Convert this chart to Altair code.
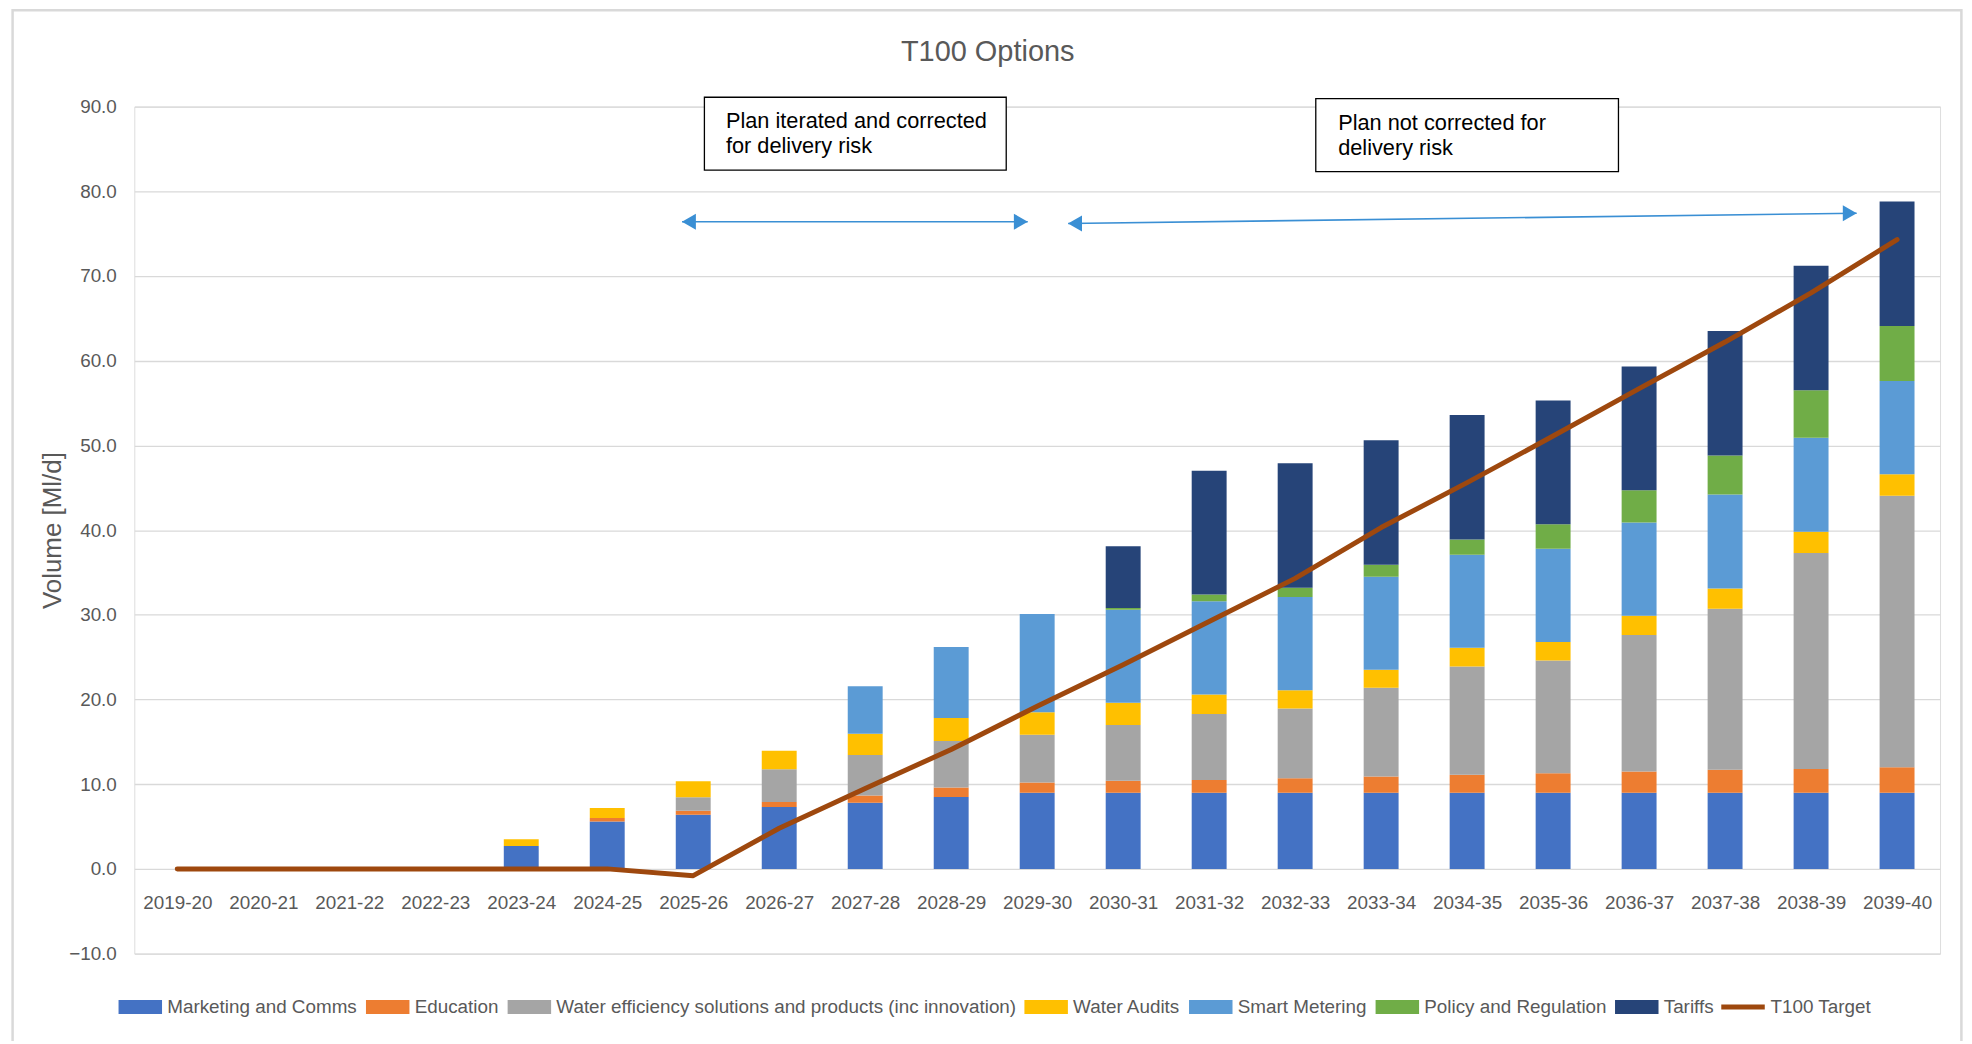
import altair as alt
import pandas as pd

years = ['2019-20', '2020-21', '2021-22', '2022-23', '2023-24', '2024-25', '2025-26',
         '2026-27', '2027-28', '2028-29', '2029-30', '2030-31', '2031-32', '2032-33',
         '2033-34', '2034-35', '2035-36', '2036-37', '2037-38', '2038-39', '2039-40']

series_names = ['Marketing and Comms', 'Education',
                'Water efficiency solutions and products (inc innovation)',
                'Water Audits', 'Smart Metering', 'Policy and Regulation', 'Tariffs']
series_colors = ['#4472C4', '#ED7D31', '#A5A5A5', '#FFC000', '#5B9BD5', '#70AD47', '#264478']

marketing = [0, 0, 0, 0, 2.7, 5.6, 6.4, 7.3, 7.8, 8.5, 9.0, 9.0, 9.0, 9.0, 9.0, 9.0, 9.0, 9.0, 9.0, 9.0, 9.0]
education = [0, 0, 0, 0, 0, 0.4, 0.45, 0.6, 0.85, 1.1, 1.2, 1.4, 1.5, 1.7, 1.9, 2.1, 2.3, 2.5, 2.7, 2.8, 3.0]
water_eff = [0, 0, 0, 0, 0, 0, 1.6, 3.85, 4.8, 5.5, 5.65, 6.6, 7.8, 8.25, 10.5, 12.8, 13.3, 16.1, 19.0, 25.5, 32.05]
audits = [0, 0, 0, 0, 0.8, 1.2, 1.9, 2.2, 2.5, 2.7, 2.65, 2.6, 2.3, 2.15, 2.1, 2.2, 2.2, 2.3, 2.4, 2.5, 2.55]
smart = [0, 0, 0, 0, 0, 0, 0, 0, 5.6, 8.4, 11.6, 11.0, 11.0, 11.0, 11.0, 11.0, 11.0, 11.0, 11.1, 11.1, 11.0]
policy = [0, 0, 0, 0, 0, 0, 0, 0, 0, 0, 0, 0.2, 0.8, 1.1, 1.4, 1.8, 2.9, 3.8, 4.6, 5.6, 6.5]
tariffs = [0, 0, 0, 0, 0, 0, 0, 0, 0, 0, 0, 7.3, 14.6, 14.7, 14.7, 14.7, 14.6, 14.6, 14.7, 14.7, 14.7]

t100_target = [0, 0, 0, 0, 0, 0, -0.8, 4.8, 9.5, 14.1, 19.2, 24.1, 29.2, 34.3,
               40.3, 45.6, 51.1, 56.7, 62.2, 68.0, 74.3]

# annotation boxes (x in category-index units, y in Ml/d)
box_x = [6.13, 13.24]
box_x2 = [9.64, 16.76]
box_y = [91.1, 90.94]
box_y2 = [82.5, 82.33]
box_text_x = [6.38, 13.5]
box_text_y = [88.25, 88.1]
box_texts = ['Plan iterated and corrected\nfor delivery risk', 'Plan not corrected for\ndelivery risk']

# arrows
arrow_x = [5.87, 10.36]
arrow_x2 = [9.89, 19.53]
arrow_y = [76.4, 76.2]
arrow_y2 = [76.4, 77.4]

FONT = 'Liberation Sans'
TXT = '#595959'
FS = 18.9

all_series = [marketing, education, water_eff, audits, smart, policy, tariffs]
rows = []
for k, (name, vals) in enumerate(zip(series_names, all_series)):
    for i, v in enumerate(vals):
        if v > 0:
            rows.append({'idx': i, 'series': name, 'k': k, 'value': v})
bars_df = pd.DataFrame(rows)

line_df = pd.DataFrame({'idx': list(range(len(years))), 'value': t100_target,
                        's': ['T100 Target'] * len(years)})

box_df = pd.DataFrame({'x': box_x, 'x2': box_x2, 'y': box_y, 'y2': box_y2,
                       'tx': box_text_x, 'ty': box_text_y, 'text': box_texts})
arrow_df = pd.DataFrame({'x': arrow_x, 'x2': arrow_x2, 'y': arrow_y, 'y2': arrow_y2})
head_off = 0.08
heads_left = pd.DataFrame({'x': [a + head_off for a in arrow_x], 'y': arrow_y})
heads_right = pd.DataFrame({'x': [a - head_off for a in arrow_x2], 'y': arrow_y2})

label_expr = '[' + ','.join("'%s'" % y for y in years) + '][datum.value]'

x_scale = alt.Scale(domain=[-0.5, len(years) - 0.5], nice=False, zero=False, padding=0)
y_scale = alt.Scale(domain=[-10, 90], nice=False, zero=False)

PLOT_H = 849
x_axis = alt.Axis(values=list(range(len(years))), labelExpr=label_expr, title=None,
                  grid=False, domain=False, ticks=False, offset=-PLOT_H / 10.0,
                  labelPadding=25, labelFont=FONT, labelFontSize=FS, labelColor=TXT,
                  labelOverlap=False, labelFlush=False)
y_axis = alt.Axis(values=list(range(-10, 91, 10)), format='.1f', title='Volume [Ml/d]',
                  domain=False, ticks=False, labelPadding=18, labelFont=FONT,
                  labelFontSize=FS, labelColor=TXT, gridColor='#D9D9D9', gridWidth=1.3,
                  titleFont=FONT, titleFontSize=26, titleFontWeight='normal',
                  titleColor=TXT, titleX=-82, titleBaseline='middle')

bars = alt.Chart(bars_df).mark_bar(size=35).encode(
    x=alt.X('idx:Q', scale=x_scale, axis=x_axis),
    y=alt.Y('sum(value):Q', scale=y_scale, axis=y_axis, stack='zero'),
    color=alt.Color('series:N',
                    scale=alt.Scale(domain=series_names, range=series_colors),
                    legend=alt.Legend(title=None, orient='none', legendX=-16, legendY=880.5,
                                      direction='horizontal', columns=7,
                                      symbolType='M-1,-0.32H1V0.32H-1Z', symbolSize=1900,
                                      symbolStrokeWidth=0, labelFont=FONT,
                                      labelFontSize=FS, labelColor=TXT, labelOffset=5,
                                      columnPadding=8, padding=0, labelLimit=800)),
    order=alt.Order('k:Q', sort='ascending'),
)

line = alt.Chart(line_df).mark_line(strokeWidth=5, strokeCap='round', strokeJoin='round').encode(
    x=alt.X('idx:Q', scale=x_scale),
    y=alt.Y('value:Q', scale=y_scale),
    stroke=alt.Stroke('s:N', scale=alt.Scale(domain=['T100 Target'], range=['#9E480E']),
                      legend=alt.Legend(title=None, orient='none', legendX=1588, legendY=878,
                                        symbolType='stroke', symbolSize=1900,
                                        symbolStrokeWidth=5, labelFont=FONT,
                                        labelFontSize=FS, labelColor=TXT, labelOffset=3,
                                        padding=0)),
)

boxes = alt.Chart(box_df).mark_rect(fill='white', stroke='black', strokeWidth=1.3).encode(
    x=alt.X('x:Q', scale=x_scale), x2='x2:Q',
    y=alt.Y('y:Q', scale=y_scale), y2='y2:Q',
)
box_text = alt.Chart(box_df).mark_text(align='left', baseline='middle', font=FONT,
                                       fontSize=21.8, color='black', lineBreak='\n',
                                       lineHeight=25).encode(
    x=alt.X('tx:Q', scale=x_scale), y=alt.Y('ty:Q', scale=y_scale), text='text:N')

ARROW = '#3A8FD4'
arrows = alt.Chart(arrow_df).mark_rule(color=ARROW, strokeWidth=1.6).encode(
    x=alt.X('x:Q', scale=x_scale), x2='x2:Q',
    y=alt.Y('y:Q', scale=y_scale), y2='y2:Q')
hl = alt.Chart(heads_left).mark_point(shape='triangle-left', filled=True, opacity=1,
                                      color=ARROW, size=260).encode(
    x=alt.X('x:Q', scale=x_scale), y=alt.Y('y:Q', scale=y_scale))
hr = alt.Chart(heads_right).mark_point(shape='triangle-right', filled=True, opacity=1,
                                       color=ARROW, size=260).encode(
    x=alt.X('x:Q', scale=x_scale), y=alt.Y('y:Q', scale=y_scale))

border = alt.Chart(pd.DataFrame({'a': [0]})).mark_rect(
    fill=None, stroke='#D9D9D9', strokeWidth=2.5).encode(
    x=alt.value(-122), x2=alt.value(1831.4), y=alt.value(-96.6), y2=alt.value(945))

chart = alt.layer(bars, line, arrows, hl, hr, boxes, box_text, border).properties(
    width=1810, height=PLOT_H,
    title=alt.TitleParams('T100 Options', font=FONT, fontSize=29, fontWeight='normal',
                          color=TXT, anchor='middle', dx=-49.6, offset=0, dy=58),
    padding={'left': 126.6, 'top': 97.6, 'right': 24, 'bottom': 86},
    autosize=alt.AutoSizeParams(type='none'),
).configure_view(stroke=None).configure(background='white')

chart.save('out.html', embed_options={'renderer': 'svg', 'actions': False})
